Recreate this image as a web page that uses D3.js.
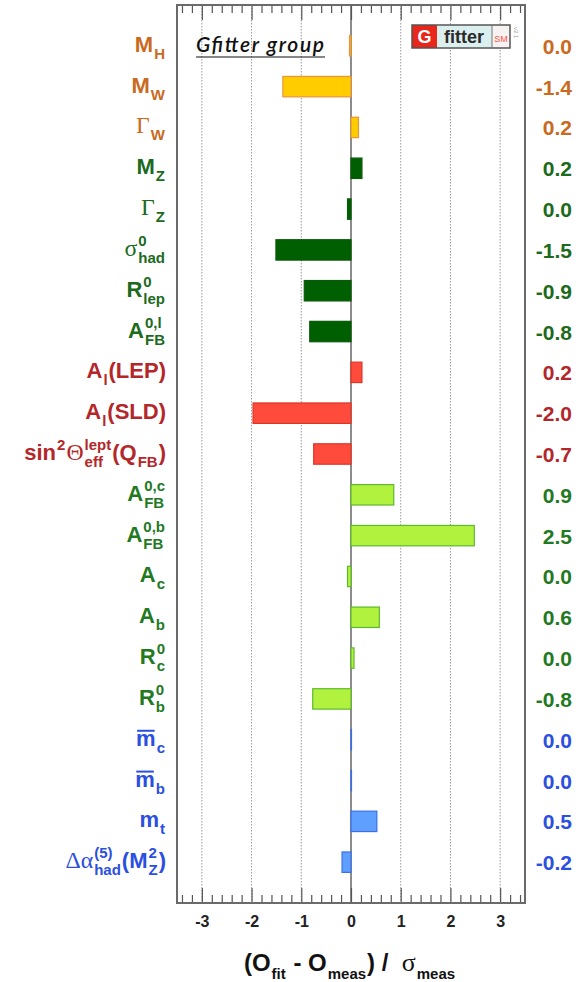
<!DOCTYPE html>
<html>
<head>
<meta charset="utf-8">
<script src="https://cdn.jsdelivr.net/npm/d3@7"></script>
<style>
body{margin:0;background:#fff}
svg{display:block}
text{white-space:pre}
</style>
</head>
<body>
<svg id="chart" width="582" height="982"></svg>
<script>
// observables, top to bottom (simple markup: ^{sup} _{sub} #overline)
var names = ["M_{H}", "M_{W}", "Γ_{W}", "M_{Z}", "Γ_{Z}", "σ^{0}_{had}", "R^{0}_{lep}", "A^{0,l}_{FB}",
  "A_{l}(LEP)", "A_{l}(SLD)", "sin^{2}Θ^{lept}_{eff}(Q_{FB})", "A^{0,c}_{FB}", "A^{0,b}_{FB}",
  "A_{c}", "A_{b}", "R^{0}_{c}", "R^{0}_{b}", "#m_{c}", "#m_{b}", "m_{t}", "Δα^{(5)}_{had}(M^{2}_{Z})"];
var groups = ["w", "w", "w", "z", "z", "z", "z", "z", "lep", "lep", "lep",
  "hf", "hf", "hf", "hf", "hf", "hf", "q", "q", "q", "q"];
var pulls = [-0.03, -1.37, 0.15, 0.22, -0.07, -1.51, -0.94, -0.83, 0.22, -1.97, -0.75,
  0.86, 2.48, -0.07, 0.57, 0.06, -0.77, 0.01, 0.01, 0.52, -0.18];
var pullText = ["0.0", "-1.4", "0.2", "0.2", "0.0", "-1.5", "-0.9", "-0.8", "0.2", "-2.0", "-0.7",
  "0.9", "2.5", "0.0", "0.6", "0.0", "-0.8", "0.0", "0.0", "0.5", "-0.2"];
var xTicks = [-3, -2, -1, 0, 1, 2, 3];
var xTitle = "(O_{fit} - O_{meas}) /  σ_{meas}";

var style = {
  w:   {text: "#c96a1f", fill: "#ffcc00", stroke: "#e8953a"},
  z:   {text: "#1c6a1c", fill: "#005f00", stroke: "#0a5a0a"},
  lep: {text: "#b3272a", fill: "#ff4b3c", stroke: "#dd3526"},
  hf:  {text: "#23791f", fill: "#b1f23e", stroke: "#5fb82e"},
  q:   {text: "#2b4fe0", fill: "#5f9fff", stroke: "#3c6ee6"}
};
var sans = "'Liberation Sans', Arial, Helvetica, sans-serif";
var serif = "'Liberation Serif', 'Times New Roman', serif";
var greek = "ΓσΘΔα";

var svg = d3.select("#chart");
var frame = {left: 177, right: 525, top: 5, bottom: 903};

var x = d3.scaleLinear().domain([-3.5, 3.5]).range([frame.left, frame.right]);
var y = d3.scaleLinear().domain([0, 22]).range([frame.top, frame.bottom]);
var barH = (y(1) - y(0)) * 0.5;

function parse(s) {
  var out = [], i = 0, buf = "";
  function flush() { if (buf) { out.push({k: "n", t: buf}); buf = ""; } }
  function grab() { var j = s.indexOf("}", i); var t = s.slice(i + 1, j); i = j + 1; return t; }
  while (i < s.length) {
    var c = s[i];
    if (c === "^") {
      flush(); i++;
      var sup = grab(), sub = null;
      if (s[i] === "_") { i++; sub = grab(); }
      out.push({k: "ss", sup: sup, sub: sub});
    } else if (c === "_") {
      flush(); i++;
      out.push({k: "ss", sup: null, sub: grab()});
    } else if (c === "#") {
      flush(); i++;
      out.push({k: "n", t: s[i], over: true}); i++;
    } else if (greek.indexOf(c) >= 0) {
      flush(); out.push({k: "g", t: c}); i++;
    } else { buf += c; i++; }
  }
  flush();
  return out;
}

// draws rich text starting at local x=0 on baseline 0, returns width
function drawRich(g, s, o) {
  var cx = 0;
  parse(s).forEach(function(p) {
    if (p.k === "n" || p.k === "g") {
      var t = g.append("text").attr("x", cx).attr("y", 0).text(p.t)
        .attr("font-size", p.k === "g" ? o.size * 1.08 : o.size).attr("fill", o.color)
        .attr("font-family", p.k === "g" ? serif : sans)
        .attr("font-weight", p.k === "g" ? "normal" : "bold");
      var w = t.node().getComputedTextLength();
      if (p.over) {
        g.append("line").attr("x1", cx + 1).attr("x2", cx + w - 1)
          .attr("y1", -o.size * 0.68).attr("y2", -o.size * 0.68)
          .attr("stroke", o.color).attr("stroke-width", 2);
      }
      cx += w;
    } else {
      var w2 = 0;
      [[p.sup, o.supDy], [p.sub, o.subDy]].forEach(function(a) {
        if (a[0] === null) return;
        var t = g.append("text").attr("x", cx + 1).attr("y", a[1]).text(a[0])
          .attr("font-size", o.small).attr("fill", o.color)
          .attr("font-family", sans).attr("font-weight", "bold");
        w2 = Math.max(w2, t.node().getComputedTextLength());
      });
      cx += w2 + 2;
    }
  });
  return cx;
}

// grid
svg.append("g").selectAll("line").data(xTicks.filter(function(d) { return d !== 0; }))
  .enter().append("line")
  .attr("x1", function(d) { return x(d); }).attr("x2", function(d) { return x(d); })
  .attr("y1", frame.top).attr("y2", frame.bottom)
  .attr("stroke", "#9a9a9a").attr("stroke-width", 1).attr("stroke-dasharray", "1.5,1.5");

svg.append("line").attr("x1", x(0)).attr("x2", x(0)).attr("y1", frame.top).attr("y2", frame.bottom)
  .attr("stroke", "#666").attr("stroke-width", 1.5);

// bars
svg.append("g").selectAll("rect").data(pulls).enter().append("rect")
  .attr("x", function(d) { return x(Math.min(0, d)); })
  .attr("width", function(d) { return Math.abs(x(d) - x(0)); })
  .attr("y", function(d, i) { return y(i + 1) - barH / 2; })
  .attr("height", barH)
  .attr("fill", function(d, i) { return style[groups[i]].fill; })
  .attr("stroke", function(d, i) { return style[groups[i]].stroke; })
  .attr("stroke-width", 1.2);

// axes
var minor = d3.range(-34, 35, 2).filter(function(d) { return d % 10 !== 0; }).map(function(d) { return d / 10; });
function clean(g) {
  g.select(".domain").remove();
  g.selectAll(".tick line").attr("stroke", "#555").attr("stroke-width", 1.2);
}
svg.append("g").attr("transform", "translate(0," + frame.bottom + ")")
  .call(d3.axisBottom(x).tickValues(xTicks).tickSize(-15).tickPadding(13)
    .tickFormat(function(d) { return String(d); }))
  .call(clean)
  .call(function(g) {
    g.selectAll("text").attr("font-family", sans).attr("font-weight", "bold")
      .attr("font-size", 16).attr("fill", "#222");
  });
svg.append("g").attr("transform", "translate(0," + frame.bottom + ")")
  .call(d3.axisBottom(x).tickValues(minor).tickSize(-8).tickFormat(""))
  .call(clean);
svg.append("g").attr("transform", "translate(0," + frame.top + ")")
  .call(d3.axisTop(x).tickValues(xTicks).tickSize(-15).tickFormat(""))
  .call(clean);
svg.append("g").attr("transform", "translate(0," + frame.top + ")")
  .call(d3.axisTop(x).tickValues(minor).tickSize(-8).tickFormat(""))
  .call(clean);

svg.append("rect").attr("x", frame.left).attr("y", frame.top)
  .attr("width", frame.right - frame.left).attr("height", frame.bottom - frame.top)
  .attr("fill", "none").attr("stroke", "#6a6a6a").attr("stroke-width", 2);

// labels left
names.forEach(function(n, i) {
  var g = svg.append("g");
  var w = drawRich(g, n, {size: 22, small: 15, supDy: -10, subDy: 7, color: style[groups[i]].text});
  g.attr("transform", "translate(" + (166 - w) + "," + (y(i + 1) + 6) + ")");
});

// pull values right
svg.append("g").selectAll("text").data(pullText).enter().append("text")
  .attr("x", 572).attr("y", function(d, i) { return y(i + 1) + 8; })
  .attr("text-anchor", "end")
  .attr("font-family", sans).attr("font-weight", "bold").attr("font-size", 21)
  .attr("fill", function(d, i) { return style[groups[i]].text; })
  .text(function(d) { return d; });

// axis title
var tg = svg.append("g");
var tw = drawRich(tg, xTitle, {size: 24, small: 15, supDy: -10, subDy: 8, color: "#111"});
tg.attr("transform", "translate(" + (350 - tw / 2) + ",971)");

// Gfitter group
svg.append("text").attr("x", 196).attr("y", 52)
  .attr("font-family", "Lato, 'Open Sans', sans-serif").attr("font-style", "italic")
  .attr("font-weight", 600)
  .attr("font-size", 21).attr("fill", "#111").attr("textLength", 128)
  .text("Gfitter group");
svg.append("line").attr("x1", 196).attr("x2", 325).attr("y1", 57).attr("y2", 57)
  .attr("stroke", "#111").attr("stroke-width", 1.2);

// logo
var logo = svg.append("g").attr("transform", "translate(412,25)");
logo.append("rect").attr("x", 0).attr("y", 0).attr("width", 25).attr("height", 23).attr("fill", "#e8261c");
logo.append("rect").attr("x", 25).attr("y", 0).attr("width", 55).attr("height", 23).attr("fill", "#dcefef");
logo.append("rect").attr("x", 80).attr("y", 0).attr("width", 18).attr("height", 23).attr("fill", "#f7f2f2");
logo.append("rect").attr("x", 0).attr("y", 0).attr("width", 98).attr("height", 23)
  .attr("fill", "none").attr("stroke", "#555").attr("stroke-width", 1.5);
logo.append("line").attr("x1", 80).attr("x2", 80).attr("y1", 0).attr("y2", 23).attr("stroke", "#777");
logo.append("text").attr("x", 12.5).attr("y", 18).attr("text-anchor", "middle")
  .attr("font-family", sans).attr("font-weight", "bold")
  .attr("font-size", 18).attr("fill", "#fff").text("G");
logo.append("text").attr("x", 52).attr("y", 18).attr("text-anchor", "middle")
  .attr("font-family", sans).attr("font-weight", "bold")
  .attr("font-size", 18).attr("fill", "#2a2a2a").text("fitter");
logo.append("text").attr("x", 89).attr("y", 17).attr("text-anchor", "middle")
  .attr("font-family", sans).attr("font-size", 9).attr("fill", "#ff5544").text("SM");
logo.append("text").attr("transform", "translate(102,2) rotate(90)")
  .attr("font-family", sans).attr("font-size", 6).attr("fill", "#999").text("v2.1");
</script>
</body>
</html>
